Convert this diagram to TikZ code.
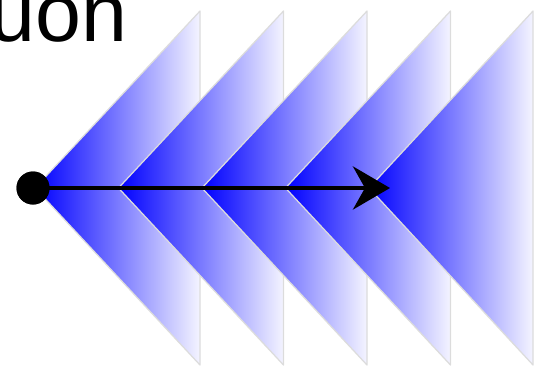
\documentclass[tikz,border=0pt]{standalone}
\usepackage{fontspec}
\setmainfont{Liberation Sans}
\usepackage{tikz}
\usetikzlibrary{
  arrows.meta,
  positioning
}
\definecolor{coneBlue}{HTML}{0000FF}
\definecolor{coneFade}{HTML}{F4F4FF}
\definecolor{coneEdge}{HTML}{DCDCDC}
\tikzset{
  cone/.style={
    left color=coneBlue,
    right color=coneFade,
    draw=coneEdge,
    line width=0.7pt,
    line join=round
  },
  sourceDot/.style={circle, fill=black, inner sep=0pt, minimum size=6.6mm},
  flowArrow/.style={-{Stealth[length=7.4mm, width=8.6mm, inset=2.4mm]}, line width=2.8pt, black},
  cutLabel/.style={font=\fontsize{47}{56}\selectfont, anchor=base west, inner sep=0pt}
}
\begin{document}
\begin{tikzpicture}[x=1cm,y=1cm]
  \useasboundingbox (0,0) rectangle (10.74,7.52);

  \node[cutLabel] (word) at (-0.22,6.70) {uon};

  % five overlapping cones, apex to the left
  \shade[cone] (0.70,3.76) -- (4.00,7.30) -- (4.00,0.22) -- cycle;
  \shade[cone] (2.37,3.76) -- (5.67,7.30) -- (5.67,0.22) -- cycle;
  \shade[cone] (4.04,3.76) -- (7.34,7.30) -- (7.34,0.22) -- cycle;
  \shade[cone] (5.71,3.76) -- (9.01,7.30) -- (9.01,0.22) -- cycle;
  \shade[cone] (7.38,3.76) -- (10.66,7.30) -- (10.66,0.22) -- cycle;

  \node[sourceDot] (src) at (0.66,3.76) {};
  \coordinate (tip) at (7.80,3.76);
  \draw[flowArrow] (src.center) -- (tip);
  \node[sourceDot] at (src) {};
\end{tikzpicture}
\end{document}
